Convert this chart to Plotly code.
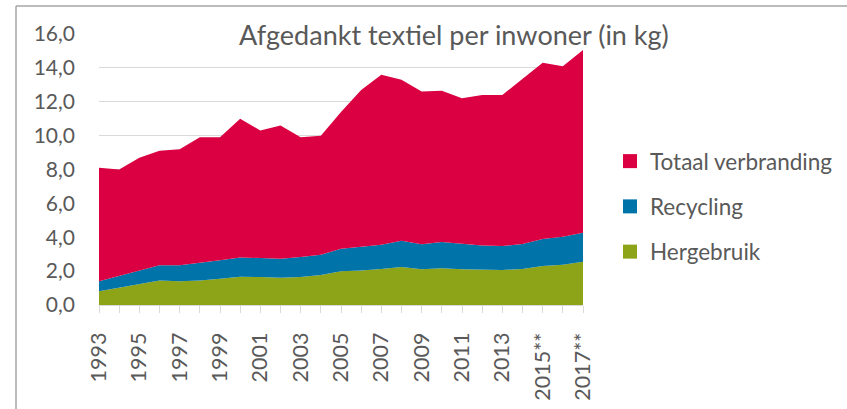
import plotly.graph_objects as go

years = list(range(1993, 2018))
tick_labels = ["1993", "", "1995", "", "1997", "", "1999", "", "2001", "", "2003", "",
               "2005", "", "2007", "", "2009", "", "2011", "", "2013", "", "2015**", "", "2017**"]
hergebruik = [0.81, 1.02, 1.26, 1.44, 1.40, 1.44, 1.55, 1.67, 1.65, 1.61, 1.65, 1.77, 1.99,
              2.03, 2.13, 2.24, 2.11, 2.17, 2.11, 2.07, 2.07, 2.13, 2.30, 2.38, 2.56]
recycling = [0.59, 0.69, 0.77, 0.90, 0.94, 1.04, 1.09, 1.14, 1.14, 1.12, 1.18, 1.20, 1.33,
             1.39, 1.43, 1.56, 1.47, 1.55, 1.49, 1.45, 1.41, 1.47, 1.60, 1.65, 1.71]
verbranding = [6.70, 6.29, 6.67, 6.76, 6.86, 7.42, 7.26, 8.19, 7.51, 7.87, 7.07, 7.03, 8.08,
               9.28, 10.04, 9.50, 9.02, 8.93, 8.60, 8.88, 8.92, 9.75, 10.40, 10.07, 10.78]

series = [("Hergebruik", hergebruik, "#8da318"),
          ("Recycling", recycling, "#0074a8"),
          ("Totaal verbranding", verbranding, "#da0042")]

FONT = "Lato"
TXT = "#595959"

fig = go.Figure()
for name, vals, col in series:
    fig.add_trace(go.Scatter(x=years, y=vals, name=name, stackgroup="one", mode="lines",
                             line=dict(width=0, color=col), fillcolor=col, showlegend=False))
# legend entries (square swatches), top to bottom
for i, (name, vals, col) in enumerate(reversed(series)):
    fig.add_trace(go.Scatter(x=[None], y=[None], mode="markers", name=name,
                             marker=dict(symbol="square", size=14, color=col),
                             legendgroup="g%d" % i, showlegend=True))

L, R, T, B = 99, 583, 34, 305
W, H = 847, 409

fig.update_layout(
    width=W, height=H,
    margin=dict(l=L, r=W - R, t=T, b=H - B, autoexpand=False),
    paper_bgcolor="white", plot_bgcolor="white",
    separators=",.",
    font=dict(family=FONT, color=TXT),
    showlegend=True,
    legend=dict(x=(610 - L) / (R - L), xanchor="left", y=(B - 140) / (B - T), yanchor="top",
                font=dict(size=22.5, color=TXT, family=FONT), tracegroupgap=13,
                bgcolor="rgba(0,0,0,0)", itemclick=False),
    xaxis=dict(range=[1993, 2017], tickvals=years, ticktext=tick_labels, tickangle=-90,
               showgrid=False, showline=True, linecolor="#d9d9d9", linewidth=1,
               ticks="outside", ticklen=7, tickcolor="#d9d9d9", tickwidth=1,
               tickfont=dict(size=21.5, color=TXT, family=FONT), zeroline=False,
               ticklabelstandoff=11),
    yaxis=dict(range=[0, 16], dtick=2, tickformat=".1f", showgrid=True, gridcolor="#d9d9d9",
               gridwidth=1, zeroline=False, showline=False,
               tickfont=dict(size=21, color=TXT, family=FONT), ticklabelstandoff=23),
)

fig.add_annotation(text="Afgedankt textiel per inwoner (in kg)", xref="paper", yref="paper",
                   x=(454 - L) / (R - L), y=(B - 34) / (B - T), xanchor="center", yanchor="middle",
                   showarrow=False, font=dict(size=27, color=TXT, family=FONT))

# chart-area frame (top and left edges visible)
fx = (16 - L) / (R - L)
fy = (B - 6) / (B - T)
fig.add_shape(type="line", xref="paper", yref="paper", x0=fx, y0=fy, x1=2.0, y1=fy,
              line=dict(color="#a6a6a6", width=1.5))
fig.add_shape(type="line", xref="paper", yref="paper", x0=fx, y0=fy, x1=fx, y1=-1.0,
              line=dict(color="#a6a6a6", width=1.5))

fig.write_html("out.html", config={"displayModeBar": False},
               post_script="document.body.style.margin='0';document.body.style.overflow='hidden';")
